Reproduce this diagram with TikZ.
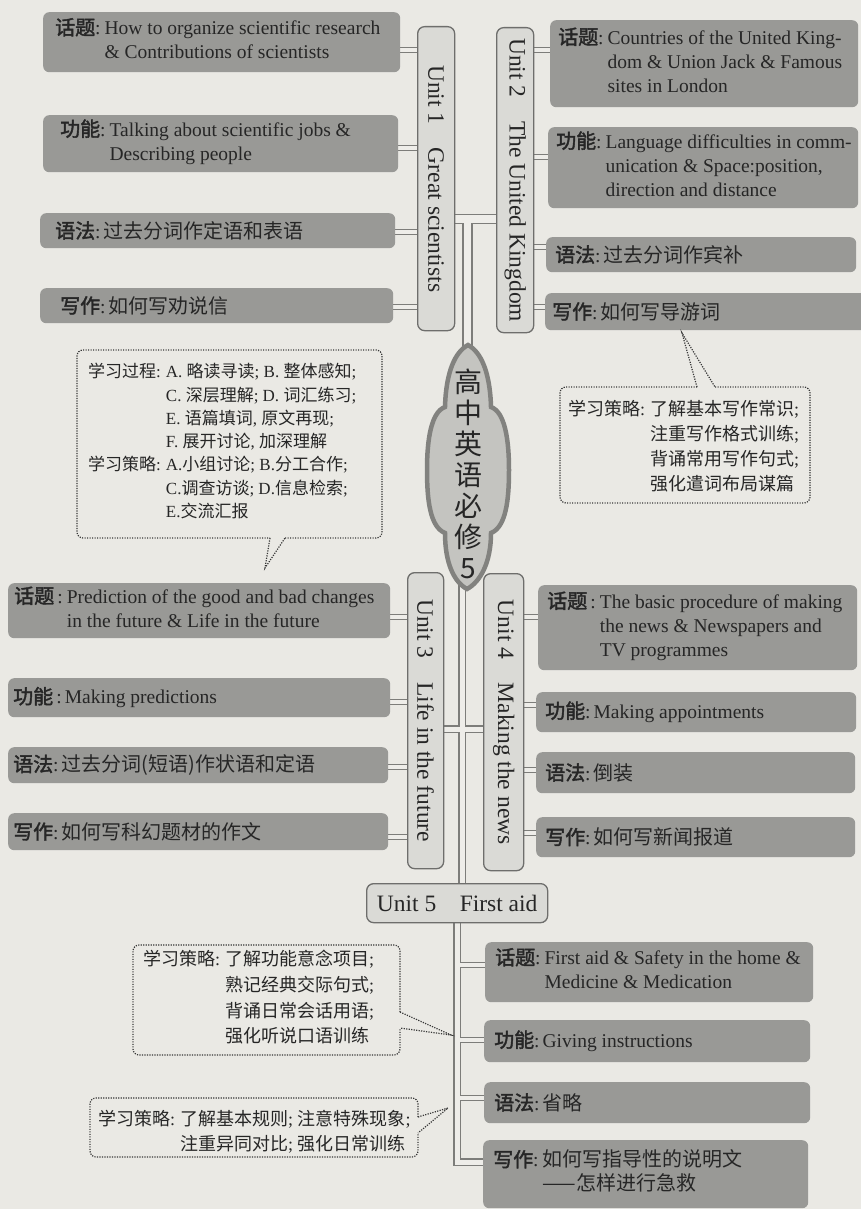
\documentclass[tikz,border=0pt]{standalone}
\usepackage{fontspec}
\setmainfont{Liberation Serif}
\newfontfamily\zh{Noto Sans CJK SC}
\newfontfamily\zhb[FakeBold=2]{Noto Sans CJK SC}
\usetikzlibrary{backgrounds}
\definecolor{bg}{RGB}{234,233,228}
\definecolor{boxgray}{RGB}{153,153,150}
\definecolor{ink}{RGB}{38,38,38}
\definecolor{unitfill}{RGB}{218,218,214}
\definecolor{unitdraw}{RGB}{110,110,108}
\definecolor{cloudfill}{RGB}{196,196,192}
\definecolor{clouddraw}{RGB}{130,130,127}
\definecolor{lineout}{RGB}{125,125,122}
\definecolor{linein}{RGB}{238,237,233}
\definecolor{dotc}{RGB}{55,55,55}

\newcommand\lab[1]{{\zhb\fontsize{20}{24}\selectfont #1}}
\newcommand\zht[1]{{\zh\fontsize{20}{24}\selectfont #1}}
\newcommand\topicbox[7]{%
  \node[topic, minimum width={(#4-#2)*1pt}, minimum height={(#5-#3)*1pt}] (#1) at (#2,#3) {};
  \node[txt] (#1t) at (#6,{(#3+#5)/2}) {#7};}
\newcommand\unitbox[6]{%
  \node[unitbox, minimum width={(#4-#2)*1pt}, minimum height={(#5-#3)*1pt}] (#1) at (#2,#3) {};
  \node[unittxt, rotate=-90] (#1t) at (#1.center) {#6};}

\newcommand\wideP[1]{\draw[#1] (u1.east |- j12) -- (u2.west |- j12) (j12) -- (cloudtop);}
\newcommand\trunkP[1]{\draw[#1] (cloudbot) -- (cloudbot |- u5.north)
   (u3.east |- j34) -- (u4.west |- j34)
   (u5.south) -- (u5.south |- j5) -- (t54.west |- j5);}
\newcommand\branchP[1]{\draw[#1]
   (t11.east |- 0,50) -- (u1.west |- 0,50)
   (t12.east |- 0,148) -- (u1.west |- 0,148)
   (t13.east |- 0,232) -- (u1.west |- 0,232)
   (t14.east |- 0,307) -- (u1.west |- 0,307)
   (u2.east |- 0,50) -- (t21.west |- 0,50)
   (u2.east |- 0,157) -- (t22.west |- 0,157)
   (u2.east |- 0,247) -- (t23.west |- 0,247)
   (u2.east |- 0,307) -- (t24.west |- 0,307)
   (t31.east |- 0,617) -- (u3.west |- 0,617)
   (t32.east |- 0,702) -- (u3.west |- 0,702)
   (t33.east |- 0,767) -- (u3.west |- 0,767)
   (t34.east |- 0,837) -- (u3.west |- 0,837)
   (u4.east |- 0,617) -- (t41.west |- 0,617)
   (u4.east |- 0,705) -- (t42.west |- 0,705)
   (u4.east |- 0,770) -- (t43.west |- 0,770)
   (u4.east |- 0,833) -- (t44.west |- 0,833)
   (u5.south |- 0,965) -- (t51.west |- 0,965)
   (u5.south |- 0,1040) -- (t52.west |- 0,1040)
   (u5.south |- 0,1098) -- (t53.west |- 0,1098);}

\begin{document}
\begin{tikzpicture}[x=1pt, y=-1pt,
  topic/.style={fill=boxgray, rounded corners=6pt, inner sep=0pt, anchor=north west},
  unitbox/.style={fill=unitfill, draw=unitdraw, line width=1.3pt, rounded corners=7pt, inner sep=0pt, anchor=north west},
  unittxt/.style={inner sep=0pt, text=ink, font=\fontsize{23.5}{28}\selectfont},
  txt/.style={inner sep=0pt, anchor=west, text=ink, font=\fontsize{19.5}{24}\selectfont},
  ctxt/.style={inner sep=0pt, anchor=west, text=ink},
  dots/.style={draw=dotc, line width=1.2pt, dash pattern=on 1.2pt off 1.3pt},
  wideout/.style={draw=lineout, line width=10.5pt},
  widein/.style={draw=linein, line width=7.5pt},
  trunkout/.style={draw=lineout, line width=8pt},
  trunkin/.style={draw=linein, line width=5pt},
  brout/.style={draw=lineout, line width=6.5pt},
  brin/.style={draw=linein, line width=3.5pt}]
\useasboundingbox (0,0) rectangle (861,1209);

% ---- unit boxes
\unitbox{u1}{417}{26}{454}{330}{Unit 1\quad Great scientists}
\unitbox{u2}{496}{27}{533}{332}{Unit 2\quad The United Kingdom}
\unitbox{u3}{407}{572}{443}{868}{Unit 3\quad Life in the future}
\unitbox{u4}{483}{573}{523}{870}{Unit 4\quad Making the news}
\node[unitbox, minimum width=181pt, minimum height=39pt] (u5) at (366,883) {};
\node[unittxt] (u5t) at (u5.center) {Unit 5\quad First aid};

% ---- topic boxes, unit 1
\topicbox{t11}{43}{12}{400}{72}{55}{\begin{tabular}{@{}l@{}l@{}}\lab{话题}:\hspace{4pt} & How to organize scientific research\\ & \& Contributions of scientists\end{tabular}}
\topicbox{t12}{43}{115}{398}{172}{60}{\begin{tabular}{@{}l@{}l@{}}\lab{功能}:\hspace{4pt} & Talking about scientific jobs \&\\ & Describing people\end{tabular}}
\topicbox{t13}{40}{213}{395}{248}{55}{\lab{语法}:\hspace{3pt}\zht{过去分词作定语和表语}}
\topicbox{t14}{40}{288}{393}{323}{60}{\lab{写作}:\hspace{3pt}\zht{如何写劝说信}}
% unit 2
\topicbox{t21}{550}{20}{858}{107}{558}{\begin{tabular}{@{}l@{}l@{}}\lab{话题}:\hspace{4pt} & Countries of the United King-\\ & dom \& Union Jack \& Famous\\ & sites in London\end{tabular}}
\topicbox{t22}{548}{127}{858}{208}{556}{\begin{tabular}{@{}l@{}l@{}}\lab{功能}:\hspace{4pt} & Language difficulties in comm-\\ & unication \& Space:position,\\ & direction and distance\end{tabular}}
\topicbox{t23}{546}{237}{856}{272}{555}{\lab{语法}:\hspace{3pt}\zht{过去分词作宾补}}
\topicbox{t24}{545}{293}{868}{330}{552}{\lab{写作}:\hspace{3pt}\zht{如何写导游词}}
% unit 3
\topicbox{t31}{8}{583}{390}{638}{14}{\begin{tabular}{@{}l@{}l@{}}\lab{话题}\,:\hspace{4pt} & Prediction of the good and bad changes\\ & in the future \& Life in the future\end{tabular}}
\topicbox{t32}{8}{678}{390}{717}{13}{\lab{功能}\,:\hspace{3pt}Making predictions}
\topicbox{t33}{8}{747}{388}{783}{13}{\lab{语法}:\hspace{3pt}\zht{过去分词(短语)作状语和定语}}
\topicbox{t34}{8}{813}{388}{850}{13}{\lab{写作}:\hspace{3pt}\zht{如何写科幻题材的作文}}
% unit 4
\topicbox{t41}{538}{585}{857}{670}{547}{\begin{tabular}{@{}l@{}l@{}}\lab{话题}\,:\hspace{4pt} & The basic procedure of making\\ & the news \& Newspapers and\\ & TV programmes\end{tabular}}
\topicbox{t42}{536}{692}{856}{732}{545}{\lab{功能}:\hspace{3pt}Making appointments}
\topicbox{t43}{536}{752}{855}{793}{545}{\lab{语法}:\hspace{3pt}\zht{倒装}}
\topicbox{t44}{536}{817}{855}{857}{545}{\lab{写作}:\hspace{3pt}\zht{如何写新闻报道}}
% unit 5
\topicbox{t51}{485}{942}{813}{1002}{495}{\begin{tabular}{@{}l@{}l@{}}\lab{话题}:\hspace{4pt} & First aid \& Safety in the home \&\\ & Medicine \& Medication\end{tabular}}
\topicbox{t52}{484}{1020}{810}{1062}{494}{\lab{功能}:\hspace{3pt}Giving instructions}
\topicbox{t53}{484}{1082}{810}{1123}{494}{\lab{语法}:\hspace{3pt}\zht{省略}}
\topicbox{t54}{483}{1140}{808}{1208}{493}{\begin{tabular}{@{}l@{}l@{}}\lab{写作}:\hspace{4pt} & \zht{如何写指导性的说明文}\\ & \zht{——怎样进行急救}\end{tabular}}

% ---- junction coordinates
\coordinate (j12) at (467.5,219);
\coordinate (cloudtop) at (467.5,355);
\coordinate (cloudbot) at (462,580);
\coordinate (j34) at (462,729);
\coordinate (j5) at (456.5,1162);

% ---- central cloud
\draw[fill=cloudfill, draw=clouddraw, line width=4.5pt]
  (468,345) .. controls (481,352) and (490,372) .. (491,407)
  .. controls (505,412) and (509,440) .. (509,470)
  .. controls (509,500) and (506,527) .. (491,533)
  .. controls (491,563) and (480,582) .. (467,589)
  .. controls (454,582) and (445,563) .. (445,533)
  .. controls (430,527) and (427,500) .. (427,470)
  .. controls (427,440) and (431,412) .. (445,407)
  .. controls (446,372) and (455,352) .. (468,345) -- cycle;
\node[inner sep=0pt, align=center, text=ink, font=\zh\fontsize{28}{31}\selectfont] (title) at (468,474) {高\\中\\英\\语\\必\\修\\5};

% ---- callouts
\coordinate (c1b1) at (270,538); \coordinate (c1b2) at (285,538); \coordinate (c1tip) at (265,568);
\draw[dots, rounded corners=6pt] (c1b2) -| (382,350) -| (77,538) -- (c1b1);
\draw[dots] (c1b1) -- (c1tip) -- (c1b2);
\node[ctxt, font=\fontsize{17}{23.3}\selectfont] (c1) at (88,443) {\begin{tabular}{@{}l@{}l@{}}%
{\zh 学习过程}:\hspace{5pt} & A. {\zh 略读寻读}; B. {\zh 整体感知};\\
 & C. {\zh 深层理解}; D. {\zh 词汇练习};\\
 & E. {\zh 语篇填词}, {\zh 原文再现};\\
 & F. {\zh 展开讨论}, {\zh 加深理解}\\
{\zh 学习策略}:\hspace{5pt} & A.{\zh 小组讨论}; B.{\zh 分工合作};\\
 & C.{\zh 调查访谈}; D.{\zh 信息检索};\\
 & E.{\zh 交流汇报}\end{tabular}};

\coordinate (c2b1) at (697,387); \coordinate (c2b2) at (715,387); \coordinate (c2tip) at (682,333);
\draw[dots, rounded corners=6pt] (c2b2) -| (810,503) -| (560,387) -- (c2b1);
\draw[dots] (c2b1) -- (c2tip) -- (c2b2);
\node[ctxt, font=\fontsize{18}{25}\selectfont] (c2) at (568,448) {\begin{tabular}{@{}l@{}l@{}}%
{\zh 学习策略}:\hspace{5pt} & {\zh 了解基本写作常识};\\
 & {\zh 注重写作格式训练};\\
 & {\zh 背诵常用写作句式};\\
 & {\zh 强化遣词布局谋篇}\end{tabular}};

\coordinate (c3b1) at (400,1012); \coordinate (c3b2) at (400,1028); \coordinate (c3tip) at (451,1035);
\draw[dots, rounded corners=6pt] (c3b1) |- (133,945) |- (400,1055) -- (c3b2);
\draw[dots] (c3b1) -- (c3tip) -- (c3b2);
\node[ctxt, font=\fontsize{18}{25.7}\selectfont] (c3) at (143,999) {\begin{tabular}{@{}l@{}l@{}}%
{\zh 学习策略}:\hspace{5pt} & {\zh 了解功能意念项目};\\
 & {\zh 熟记经典交际句式};\\
 & {\zh 背诵日常会话用语};\\
 & {\zh 强化听说口语训练}\end{tabular}};

\coordinate (c4b1) at (418,1117); \coordinate (c4b2) at (418,1133); \coordinate (c4tip) at (448,1108);
\draw[dots, rounded corners=6pt] (c4b1) |- (90,1098) |- (418,1157) -- (c4b2);
\draw[dots] (c4b1) -- (c4tip) -- (c4b2);
\node[ctxt, font=\fontsize{18}{25}\selectfont] (c4) at (98,1133) {\begin{tabular}{@{}l@{}l@{}}%
{\zh 学习策略}:\hspace{5pt} & {\zh 了解基本规则}; {\zh 注意特殊现象};\\
 & {\zh 注重异同对比}; {\zh 强化日常训练}\end{tabular}};

% ---- connectors (double lines) on background
\begin{scope}[on background layer]
\fill[bg] (0,0) rectangle (861,1209);
\wideP{wideout}
\trunkP{trunkout}
\branchP{brout}
\wideP{widein}
\trunkP{trunkin}
\branchP{brin}
\end{scope}
\end{tikzpicture}
\end{document}
